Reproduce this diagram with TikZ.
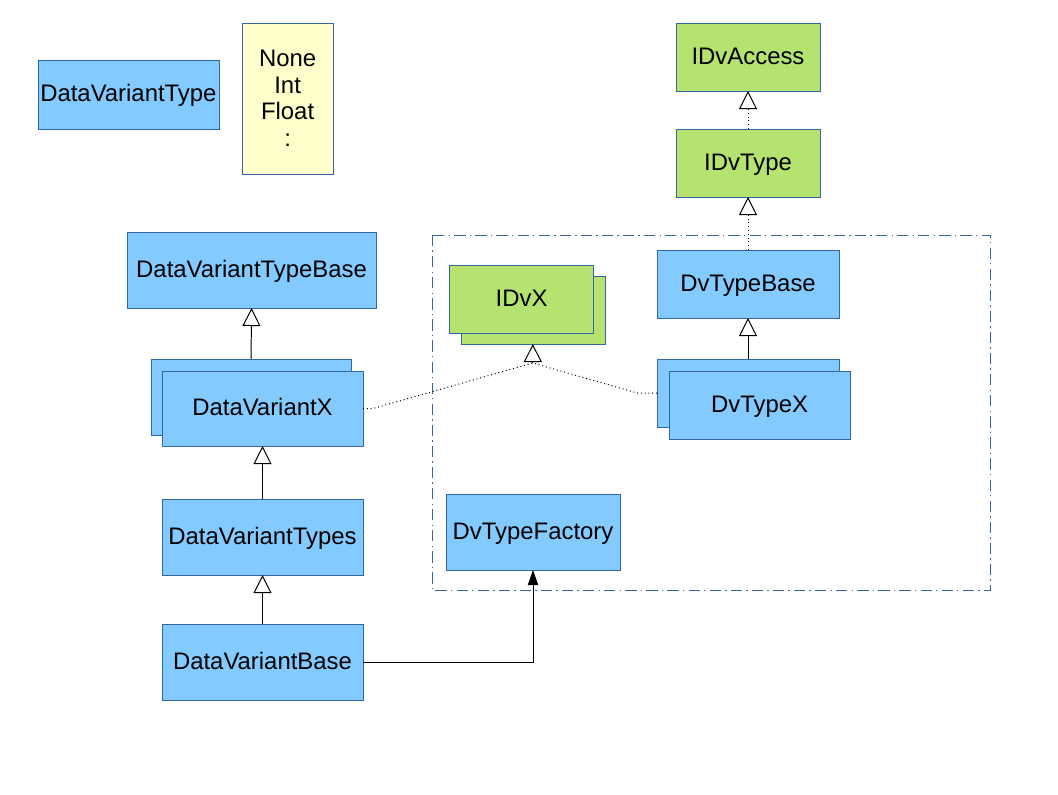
\documentclass[tikz,border=0pt]{standalone}
\usepackage{fontspec}
\setmainfont{Liberation Sans}
\usetikzlibrary{arrows.meta,positioning,calc}
\definecolor{clsblue}{HTML}{83CAFF}
\definecolor{ifgreen}{HTML}{B4E370}
\definecolor{notefill}{HTML}{FFFFCC}
\definecolor{edge}{HTML}{3465A4}

\begin{document}
\begin{tikzpicture}[
  box/.style={rectangle, draw=edge, fill=#1, inner sep=0pt, outer sep=0pt,
    font=\fontsize{17}{19}\selectfont, text height=1.22em, text depth=0.21em},
  box/.default=clsblue,
  note/.style={rectangle, draw=edge, fill=notefill, inner sep=0pt, outer sep=0pt, align=center,
    font=\fontsize{17}{19}\selectfont},
  inh/.style={-{Triangle[open, length=4.5mm, width=4.5mm]}, line width=0.7pt},
  real/.style={inh, dotted},
  dotline/.style={dotted, line width=0.7pt},
  use/.style={-{Triangle[length=3.8mm, width=2.6mm]}, line width=0.7pt},
  frame/.style={draw=edge, line width=0.7pt, dash pattern=on 8pt off 3pt on 1pt off 3pt}
]
  \useasboundingbox (0,0) rectangle (26.45,-19.85);

  % legend
  \node[box, minimum width=4.525cm, minimum height=1.725cm] (dvtype) at (3.21,-2.36) {DataVariantType};
  \node[note, minimum width=2.275cm, minimum height=3.775cm] (enums) at (7.19,-2.46) {None\\Int\\Float\\:};

  % interfaces
  \node[box=ifgreen, minimum width=3.6cm, minimum height=1.7cm] (idvaccess) at (18.7,-1.425) {IDvAccess};
  \node[box=ifgreen, minimum width=3.6cm, minimum height=1.7cm] (idvtype) at (18.7,-4.075) {IDvType};

  % DvType package
  \draw[frame] (10.8,-5.875) rectangle (24.75,-14.75);
  \node[box=ifgreen, minimum width=3.6cm, minimum height=1.7cm] (idvxback) at (13.32,-7.75) {};
  \node[box=ifgreen, minimum width=3.6cm, minimum height=1.7cm] (idvx) at (13.04,-7.475) {IDvX};
  \node[box, minimum width=4.55cm, minimum height=1.7cm] (dvtbase) at (18.7,-7.1) {DvTypeBase};
  \node[box, minimum width=4.55cm, minimum height=1.7cm] (dvtxback) at (18.7,-9.825) {};
  \node[box, minimum width=4.525cm, minimum height=1.7cm] (dvtx) at (18.99,-10.125) {DvTypeX};
  \node[box, minimum width=4.35cm, minimum height=1.9cm] (dvtfactory) at (13.325,-13.3) {DvTypeFactory};

  % DataVariant side
  \node[box, minimum width=6.225cm, minimum height=1.9cm] (dvtypebase) at (6.29,-6.75) {DataVariantTypeBase};
  \node[box, minimum width=5.0cm, minimum height=1.9cm] (dvxback) at (6.275,-9.925) {};
  \node[box, minimum width=5.025cm, minimum height=1.875cm] (dvx) at (6.5625,-10.2125) {DataVariantX};
  \node[box, minimum width=5.025cm, minimum height=1.9cm] (dvtypes) at (6.5625,-13.425) {DataVariantTypes};
  \node[box, minimum width=5.025cm, minimum height=1.9cm] (dvbase) at (6.5625,-16.55) {DataVariantBase};

  \draw[inh] (dvxback.north) -- (dvtypebase.south);
  \draw[inh] (dvtypes.north) -- (dvx.south);
  \draw[inh] (dvbase.north) -- (dvtypes.south);
  \draw[use] (dvbase.east) -| (dvtfactory.south);

  \draw[inh] (dvtxback.north) -- (dvtbase.south);
  \draw[real] (dvtbase.north) -- (idvtype.south);
  \draw[real] (idvtype.north) -- (idvaccess.south);

  % realisation of IDvX
  \coordinate (join) at ($(idvxback.south)+(0,-0.475)$);
  \draw[inh] (join) -- (idvxback.south);
  \draw[dotline] (dvx.east) -- ++(0.25,0) -- (join);
  \draw[dotline] (dvtxback.west) -- ++(-0.5,0) -- (join);
\end{tikzpicture}
\end{document}
